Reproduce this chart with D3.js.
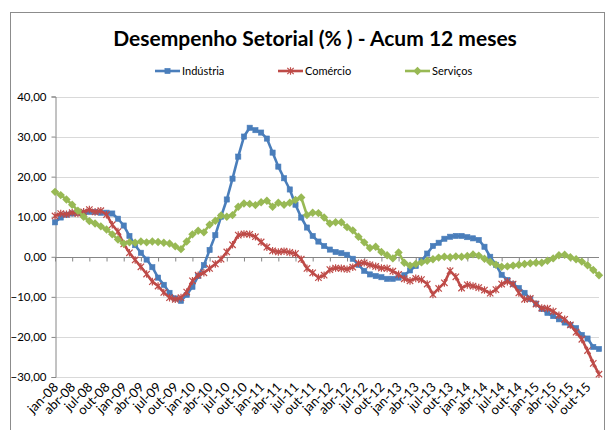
<!DOCTYPE html>
<html>
<head>
<meta charset="utf-8">
<style>
  body { margin: 0; background: #fff; }
  svg text { font-family: Lato, "Open Sans", sans-serif; fill: #000; }
</style>
</head>
<body>
<script src="https://d3js.org/d3.v7.min.js"></script>
<script>
  // month labels, jan-08 .. dez-15
  var meses = ["jan","fev","mar","abr","mai","jun","jul","ago","set","out","nov","dez"];
  var anos = ["08","09","10","11","12","13","14","15"];
  var categorias = [];
  anos.forEach(function(a){ meses.forEach(function(m){ categorias.push(m + "-" + a); }); });

  var yTicks = [-30, -20, -10, 0, 10, 20, 30, 40];

  var industria = [
    8.6, 9.8, 10.5, 10.8, 11.0, 11.0, 11.2, 11.2, 11.0, 11.0, 10.8, 9.5,
    7.8, 5.2, 2.9, 1.0, -0.7, -2.6, -5.2, -7.0, -9.0, -10.4, -11.0, -9.5,
    -7.5, -4.8, -2.1, 1.7, 5.4, 10.0, 14.3, 19.5, 25.0, 30.0, 32.2, 31.6,
    31.0, 29.5, 26.0, 22.5, 19.6, 16.8, 13.0, 9.8, 7.3, 5.2, 3.8, 2.7,
    1.8, 1.2, 0.9, 0.5, -0.5, -2.0, -3.5, -4.4, -4.8, -5.1, -5.5, -5.5,
    -5.2, -4.6, -3.4, -2.3, -1.0, 0.8, 2.7, 3.5, 4.5, 5.0, 5.2, 5.2,
    4.9, 4.6, 4.2, 2.5, 0.0, -2.0, -4.5, -5.8, -6.8, -7.8, -9.0, -10.5,
    -11.7, -13.0, -14.0, -14.8, -15.6, -16.4, -17.0, -17.8, -19.5, -20.4, -22.5, -23.0];

  var comercio = [
    10.2, 10.8, 10.6, 11.0, 10.8, 11.2, 11.8, 11.2, 11.5, 10.5, 8.0, 6.3,
    3.2, 1.0, -0.8, -2.5, -4.3, -6.2, -7.3, -8.9, -10.2, -10.6, -10.2, -8.8,
    -6.0, -4.6, -4.0, -2.9, -1.8, -0.6, 1.2, 3.0, 5.4, 5.7, 5.6, 5.0,
    3.7, 2.4, 1.5, 1.2, 1.4, 1.1, 0.8, -0.6, -2.9, -4.0, -5.2, -4.6,
    -3.2, -2.8, -2.9, -3.1, -2.6, -1.6, -1.5, -2.0, -2.4, -2.8, -2.9, -3.6,
    -4.4, -5.5, -6.0, -5.4, -5.7, -6.8, -9.4, -7.9, -6.5, -3.5, -5.0, -7.8,
    -7.0, -7.3, -7.7, -8.3, -9.1, -8.2, -6.8, -6.2, -6.8, -9.0, -10.6, -10.4,
    -11.8, -12.8, -12.9, -13.6, -14.6, -15.6, -17.0, -18.8, -20.6, -23.4, -26.6, -29.3];

  var servicos = [
    16.2, 15.4, 14.3, 13.0, 11.5, 10.0, 8.9, 8.3, 7.6, 6.8, 5.6, 4.3,
    3.3, 3.6, 3.5, 3.8, 3.6, 3.8, 3.7, 3.5, 3.3, 2.6, 1.9, 3.8,
    5.6, 6.5, 6.1, 8.0, 9.0, 10.3, 10.0, 10.4, 12.5, 13.3, 13.2, 12.9,
    13.6, 14.0, 12.5, 13.5, 13.0, 13.5, 14.2, 14.8, 10.4, 11.0, 10.9, 9.8,
    8.3, 8.6, 8.6, 7.4, 6.6, 5.0, 3.6, 2.2, 2.5, 1.2, 0.4, -0.4,
    1.1, -1.5, -2.2, -1.8, -1.4, -1.0, -0.6, -0.2, 0.0, -0.1, 0.1, 0.0,
    0.2, 0.6, 0.3, -0.5, -1.3, -2.0, -2.5, -2.4, -2.2, -2.0, -1.8, -1.6,
    -1.5, -1.5, -1.0, -0.4, 0.4, 0.5, -0.1, -0.6, -1.2, -2.1, -3.3, -4.6];

  var series = [
    {nome: "Indústria", valores: industria, cor: "#4A7EBB", marca: "square"},
    {nome: "Comércio",  valores: comercio,  cor: "#BE4B48", marca: "star"},
    {nome: "Serviços",  valores: servicos,  cor: "#98B954", marca: "diamond"}
  ];

  var W = 611, H = 430;
  var svg = d3.select("body").append("svg")
      .attr("width", W).attr("height", H);

  // chart frame
  svg.append("rect")
      .attr("x", 10.5).attr("y", 12.5)
      .attr("width", 594).attr("height", 440)
      .attr("fill", "none").attr("stroke", "#8c8c8c");

  svg.append("text")
      .attr("x", 315).attr("y", 46)
      .attr("text-anchor", "middle")
      .style("font-size", "21px").style("font-weight", "bold")
      .text("Desempenho Setorial (% ) - Acum 12 meses");

  var x = d3.scalePoint().domain(categorias).range([55, 599]);
  var y = d3.scaleLinear().domain([-30, 40]).range([377, 96.5]);

  // gridlines
  svg.append("g").selectAll("line")
    .data(yTicks).enter().append("line")
      .attr("x1", 55).attr("x2", 599)
      .attr("y1", function(d){ return Math.round(y(d)) + 0.5; })
      .attr("y2", function(d){ return Math.round(y(d)) + 0.5; })
      .attr("stroke", "#d9d9d9");

  // y axis
  var yAxis = svg.append("g")
      .attr("transform", "translate(55.5,0)")
      .call(d3.axisLeft(y).tickValues(yTicks).tickSize(4).tickPadding(5)
        .tickFormat(function(d){ return d3.format(".2f")(d).replace(".", ","); }));
  yAxis.select(".domain").attr("stroke", "#868686");
  yAxis.selectAll(".tick line").attr("stroke", "#868686");
  yAxis.selectAll(".tick text").style("font-size", "11.5px").style("font-family", "Lato, sans-serif");

  // category axis crossing at zero
  var tickCats = categorias.filter(function(d, i){ return i % 3 === 0; });
  var xAxis = svg.append("g")
      .attr("transform", "translate(0," + (Math.round(y(0)) + 0.5) + ")")
      .call(d3.axisBottom(x).tickValues(tickCats).tickSize(4).tickFormat(""));
  xAxis.select(".domain").attr("stroke", "#868686").attr("d", "M55,0H599");
  xAxis.selectAll(".tick line").attr("stroke", "#868686");

  // category labels at the bottom of the plot
  svg.append("g").selectAll("text")
    .data(tickCats).enter().append("text")
      .attr("transform", function(d){ return "translate(" + (x(d) + 4) + ",388) rotate(-45)"; })
      .attr("text-anchor", "end")
      .style("font-size", "13px")
      .text(function(d){ return d; });

  var linha = d3.line()
      .x(function(d, i){ return x(categorias[i]); })
      .y(function(d){ return y(d); });

  function marcador(g, tipo, cor) {
    if (tipo === "square") {
      g.append("rect").attr("x", -2.6).attr("y", -2.6).attr("width", 5.2).attr("height", 5.2)
        .attr("fill", cor).attr("stroke", cor).attr("stroke-width", 0.6);
    } else if (tipo === "diamond") {
      g.append("path").attr("d", "M0,-4.2L4.2,0L0,4.2L-4.2,0Z").attr("fill", cor);
    } else {
      g.append("path").attr("d", "M-3.2,-3.2L3.2,3.2M-3.2,3.2L3.2,-3.2M0,-3.8L0,3.8")
        .attr("stroke", cor).attr("stroke-width", 1.2).attr("fill", "none");
    }
  }

  series.forEach(function(s){
    var g = svg.append("g");
    g.append("path")
        .datum(s.valores)
        .attr("d", linha)
        .attr("fill", "none")
        .attr("stroke", s.cor)
        .attr("stroke-width", 2.6)
        .attr("stroke-linejoin", "round");
    g.selectAll("g.m")
      .data(s.valores).enter().append("g")
        .attr("class", "m")
        .attr("transform", function(d, i){ return "translate(" + x(categorias[i]) + "," + y(d) + ")"; })
        .each(function(){ marcador(d3.select(this), s.marca, s.cor); });
  });

  // legend
  var legX = [155, 278, 405];
  series.forEach(function(s, i){
    var lg = svg.append("g").attr("transform", "translate(" + legX[i] + ",71)");
    lg.append("line").attr("x1", 0).attr("x2", 25).attr("stroke", s.cor).attr("stroke-width", 2.6);
    var m = lg.append("g").attr("transform", "translate(12.5,0)");
    marcador(m, s.marca, s.cor);
    lg.append("text").attr("x", 27).attr("y", 4)
      .style("font-size", "11px").text(s.nome);
  });
</script>
</body>
</html>
